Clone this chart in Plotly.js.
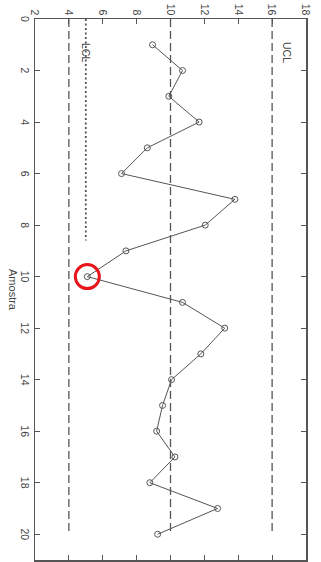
<!DOCTYPE html>
<html>
<head>
<meta charset="utf-8">
<script src="https://cdn.plot.ly/plotly-3.0.1.min.js"></script>
<style>
html, body { margin: 0; padding: 0; background: #fff; overflow: hidden; width: 321px; height: 562px; }
#wrap { position: absolute; left: 0; top: 0; width: 562px; height: 321px;
  transform-origin: 0 0; transform: translate(321px, 0) rotate(90deg); }
</style>
</head>
<body>
<div id="wrap"><div id="chart" style="width:562px;height:321px;"></div></div>
<script>
// Data
const samples = [1,2,3,4,5,6,7,8,9,10,11,12,13,14,15,16,17,18,19,20];
const values  = [8.94,10.71,9.9,11.69,8.63,7.11,13.8,12.05,7.37,5.09,10.71,13.2,11.79,10.06,9.53,9.18,10.26,8.78,12.78,9.24];
const limitSpan = [0, 20];
const UCL = 16;
const CL = 10;
const LCL = 4;
const lclWarnSpan = [0, 8.6];
const lclWarn = 5;
const flagged = [10];
const xTicks = [0,2,4,6,8,10,12,14,16,18,20];
const yTicks = [2,4,6,8,10,12,14,16,18];

const flaggedVals = flagged.map(s => values[samples.indexOf(s)]);
const grey = '#555';
const dashStyle = '8px,4px';
const fontFam = 'Liberation Sans, Arial, sans-serif';

const traces = [
  {x: limitSpan, y: limitSpan.map(()=>UCL), mode:'lines', line:{color:grey, width:1.3, dash:dashStyle}, hoverinfo:'skip'},
  {x: limitSpan, y: limitSpan.map(()=>CL), mode:'lines', line:{color:grey, width:1.3, dash:dashStyle}, hoverinfo:'skip'},
  {x: limitSpan, y: limitSpan.map(()=>LCL), mode:'lines', line:{color:grey, width:1.3, dash:dashStyle}, hoverinfo:'skip'},
  {x: lclWarnSpan, y: lclWarnSpan.map(()=>lclWarn), mode:'lines', line:{color:grey, width:1.8, dash:'2px,2.5px'}, hoverinfo:'skip'},
  {x: samples, y: values, mode:'lines+markers', line:{color:grey, width:1},
   marker:{symbol:'circle-open', size:6, color:grey, line:{width:1, color:grey}}},
  {x: flagged, y: flaggedVals, mode:'markers',
   marker:{symbol:'circle-open', size:24, color:'#e8141c', line:{width:3, color:'#e8141c'}}}
];

const axisCommon = {
  showgrid:false, zeroline:false, showline:true, linecolor:grey, linewidth:1.5,
  mirror:'ticks', ticks:'inside', ticklen:5, tickcolor:grey, tickwidth:1,
  tickfont:{family:fontFam, size:10.5, color:'#444'}
};

const layout = {
  width:562, height:321,
  margin:{l:19, r:2, t:15, b:35},
  paper_bgcolor:'#fff', plot_bgcolor:'#fff',
  showlegend:false,
  xaxis: Object.assign({}, axisCommon, {range:[0,21], tickvals:xTicks, ticktext:xTicks.map(String),
    title:{text:'Amostra', font:{family:fontFam, size:11, color:'#444'}, standoff:2}}),
  yaxis: Object.assign({}, axisCommon, {range:[2,18], tickvals:yTicks, ticktext:yTicks.map(String)}),
  annotations:[
    {x:1.3, y:16.9, xref:'x', yref:'y', text:'UCL', showarrow:false, xanchor:'center', yanchor:'middle',
     font:{family:fontFam, size:10.5, color:'#444'}},
    {x:1.3, y:5.0, xref:'x', yref:'y', text:'LCL', showarrow:false, xanchor:'center', yanchor:'middle',
     font:{family:fontFam, size:10.5, color:'#444'}}
  ]
};

Plotly.newPlot('chart', traces, layout, {staticPlot:true, displayModeBar:false});
</script>
</body>
</html>
